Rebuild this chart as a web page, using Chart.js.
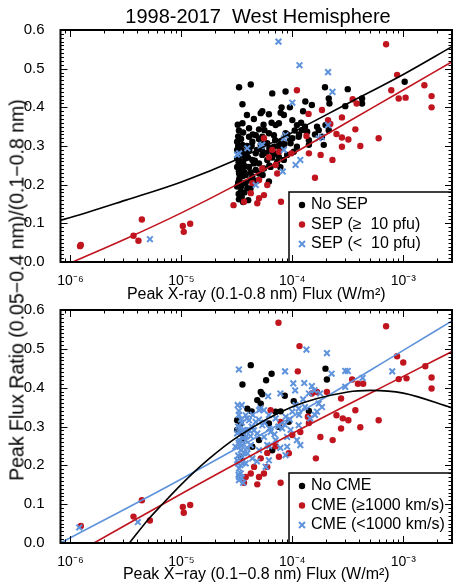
<!DOCTYPE html>
<html>
<head>
<meta charset="utf-8">
<script src="https://cdn.jsdelivr.net/npm/chart.js@4/dist/chart.umd.min.js"></script>
<style>
  body { margin: 0; background: #fff; }
  #wrap { position: relative; width: 458px; height: 586px; font-family: "Liberation Sans", Arial, Helvetica, sans-serif; }
  canvas { position: absolute; left: 0; top: 0; }
  #title { position: absolute; left: 258px; top: 15.5px; transform: translate(-50%, -50%); font-size: 20px; white-space: pre; color: #000; }
  #ytitle { position: absolute; left: 17px; top: 290px; transform: translate(-50%, -50%) rotate(-90deg); font-size: 19.5px; white-space: nowrap; color: #000; }
</style>
</head>
<body>
<div id="wrap">
  <canvas id="topChart" width="458" height="586"></canvas>
  <canvas id="botChart" width="458" height="586"></canvas>
  <div id="title">1998-2017  West Hemisphere</div>
  <div id="ytitle">Peak Flux Ratio (0.05−0.4 nm)/(0.1−0.8 nm)</div>
</div>
<script>
// x = peak GOES flux (W/m^2), y = flux ratio

// top panel: SEP classes
const topNoSep = [
  [3.31e-5,0.452],[4.22e-5,0.459],[3.55e-5,0.408],[6.59e-5,0.436],[8.69e-5,0.441],[5.36e-5,0.390],
  [5.19e-5,0.385],[6.15e-5,0.382],[7.84e-5,0.386],[8.39e-5,0.380],[1.31e-4,0.415],[1.50e-4,0.406],
  [1.97e-4,0.452],[2.13e-4,0.423],[2.16e-4,0.410],[3.16e-4,0.447],[3.0e-4,0.403],[4.25e-4,0.423],
  [4.25e-4,0.410],[1.03e-3,0.466],[3.55e-5,0.359],[4.07e-5,0.346],[5.01e-5,0.343],[5.6e-5,0.341],
  [7.07e-5,0.354],[7.57e-5,0.359],[1.0e-4,0.367],[1.10e-4,0.354],[1.22e-4,0.341],[1.36e-4,0.337],
  [1.67e-4,0.350],[1.73e-4,0.341],[1.99e-4,0.354],[2.13e-4,0.341],[1.85e-4,0.324],[1.41e-4,0.315],
  [1.14e-4,0.324],[1.0e-4,0.320],[8.69e-5,0.333],[6.82e-5,0.328],[6.15e-5,0.333],[5.36e-5,0.324],
  [4.68e-5,0.328],[4.07e-5,0.324],[3.31e-5,0.320],[3.18e-5,0.311],[3.55e-5,0.303],[4.36e-5,0.311],
  [5.19e-5,0.303],[5.94e-5,0.307],[6.82e-5,0.298],[7.84e-5,0.311],[9.64e-5,0.307],[1.10e-4,0.298],
  [1.41e-4,0.303],[1.92e-4,0.303],[3.18e-5,0.290],[3.55e-5,0.281],[3.93e-5,0.285],[4.68e-5,0.281],
  [5.36e-5,0.277],[6.59e-5,0.285],[7.57e-5,0.272],[8.98e-5,0.277],[1.03e-4,0.285],[3.18e-5,0.268],
  [3.43e-5,0.259],[3.80e-5,0.268],[4.36e-5,0.264],[5.01e-5,0.255],[5.94e-5,0.264],[7.31e-5,0.259],
  [8.39e-5,0.264],[3.18e-5,0.246],[3.55e-5,0.242],[4.07e-5,0.246],[4.68e-5,0.238],[5.55e-5,0.242],
  [6.37e-5,0.246],[3.31e-5,0.229],[3.80e-5,0.225],[4.36e-5,0.221],[5.01e-5,0.229],[3.31e-5,0.212],
  [3.67e-5,0.204],[4.22e-5,0.212],[3.18e-5,0.195],[3.43e-5,0.182],[3.43e-5,0.169],[3.93e-5,0.191],
  [6.15e-5,0.208],[3.6e-5,0.335],[3.9e-5,0.300],[4.0e-5,0.270],[4.5e-5,0.255],[4.8e-5,0.290],
  [3.35e-5,0.218],[3.75e-5,0.248],[4.2e-5,0.232],[4.6e-5,0.262],[5.3e-5,0.290],[5.8e-5,0.282],
  [6.6e-5,0.270],[7.0e-5,0.315],[8.0e-5,0.295],[9.0e-5,0.330],[1.05e-4,0.340],[1.2e-4,0.360],
  [3.45e-5,0.195],[3.7e-5,0.180],[3.25e-5,0.300],[3.4e-5,0.275],[3.3e-5,0.235],[3.6e-5,0.260],
  [3.22e-5,0.355],[3.3e-5,0.340],[3.25e-5,0.325],[3.45e-5,0.318],[3.35e-5,0.295],[3.5e-5,0.288],
  [3.28e-5,0.258],[3.5e-5,0.250],[3.25e-5,0.205],[3.4e-5,0.200],[3.55e-5,0.222],[3.28e-5,0.176],
  [3.5e-5,0.168],[3.8e-5,0.205],[3.7e-5,0.232],[3.85e-5,0.275],[4.1e-5,0.290],[4.3e-5,0.300],
  [4.4e-5,0.330],[5.0e-5,0.318],[5.6e-5,0.310],[6.2e-5,0.295],[6.9e-5,0.280],[7.5e-5,0.300],
  [8.5e-5,0.305],[9.5e-5,0.318],[1.15e-4,0.330],[1.3e-4,0.350],[1.6e-4,0.330],[1.25e-4,0.390],
  [9.5e-5,0.400],[8.0e-5,0.400],[6.5e-5,0.360],[5.5e-5,0.355],[4.5e-5,0.370],[3.9e-5,0.380],
  [4.8e-5,0.210],[5.4e-5,0.225],[6.2e-5,0.250],[7.8e-5,0.245],[4.2e-5,0.190],[3.6e-5,0.155],
  [4.0e-5,0.160],[3.3e-5,0.162]
];
const topSepHigh = [
  [1.22e-6,0.041],[1.24e-6,0.044],[4.4e-6,0.110],[3.7e-6,0.068],[4.1e-6,0.055],[1.03e-5,0.093],
  [1.05e-5,0.078],[1.2e-5,0.099],[7.0e-4,0.563],[8.8e-4,0.484],[7.8e-4,0.444],[1.55e-3,0.457],
  [9.1e-4,0.423],[1.05e-3,0.425],[1.8e-3,0.429],[1.8e-3,0.400],[1.1e-4,0.444],[3.5e-4,0.421],
  [3.8e-4,0.410],[1.85e-4,0.393],[1.4e-4,0.383],[2.8e-4,0.374],[2.2e-4,0.357],[3.7e-4,0.343],
  [2.5e-4,0.331],[2.8e-4,0.322],[4.1e-4,0.300],[6.0e-4,0.320],[2.8e-4,0.298],[1.34e-4,0.326],
  [1.8e-4,0.277],[2.3e-4,0.264],[1.6e-4,0.218],[7.9e-5,0.156],[2.1e-4,0.367],[3.2e-4,0.317],
  [1.41e-4,0.281],[9.8e-5,0.281],[7.57e-5,0.285],[6.15e-5,0.271],[7.07e-5,0.251],[5.36e-5,0.242],
  [5.94e-5,0.199],[5.01e-5,0.212],[4.36e-5,0.204],[7.31e-5,0.229],[5.55e-5,0.173],[5.01e-5,0.165],
  [4.22e-5,0.178],[3.67e-5,0.156],[2.95e-5,0.147],[4.83e-5,0.152],[5.55e-5,0.320],[6.59e-5,0.290]
];
const topSepLow = [
  [7.5e-5,0.570],[1.16e-4,0.509],[2.1e-4,0.491],[2.3e-4,0.440],[1.0e-4,0.412],[2.1e-4,0.354],
  [5.2e-6,0.059],[8.69e-5,0.328],[8.39e-5,0.320],[1.73e-4,0.320],[1.85e-4,0.323],[8.39e-5,0.290],
  [5.36e-5,0.303],[5.19e-5,0.300],[3.93e-5,0.294],[3.31e-5,0.281],[3.18e-5,0.277],[1.18e-4,0.264],
  [1.07e-4,0.251],[8.2e-5,0.234],[4.68e-5,0.199]
];

// bottom panel: CME classes
const botNoCme = [
  [4.22e-5,0.458],[3.55e-5,0.408],[5.19e-5,0.389],[5.36e-5,0.383],[6.5e-5,0.436],[5.8e-5,0.419],
  [4.83e-5,0.368],[5.19e-5,0.359],[8.55e-5,0.379],[1.99e-4,0.449],[2.05e-4,0.421],[1.03e-4,0.365],
  [1.41e-4,0.340],[3.93e-5,0.346],[4.3e-5,0.339],[3.18e-5,0.316],[3.43e-5,0.308],[7.07e-5,0.338],
  [7.84e-5,0.339],[6.15e-5,0.308],[7.57e-5,0.299],[9.3e-5,0.312],[3.18e-5,0.291],[3.55e-5,0.282],
  [4.36e-5,0.248],[6.59e-5,0.239],[3.55e-5,0.265],[5.01e-5,0.265],[3.43e-5,0.222]
];
const botCmeFast = [
  [1.24e-6,0.044],[4.4e-6,0.110],[3.7e-6,0.068],[5.2e-6,0.058],[1.03e-5,0.093],[1.05e-5,0.078],
  [1.2e-5,0.098],[1.16e-4,0.507],[7.5e-5,0.567],[7.0e-4,0.558],[8.8e-4,0.481],[1.0e-3,0.465],
  [1.58e-3,0.455],[1.8e-3,0.426],[1.8e-3,0.398],[9.1e-4,0.422],[1.07e-3,0.424],[3.46e-4,0.421],
  [3.9e-4,0.410],[4.35e-4,0.410],[1.12e-4,0.442],[1.67e-4,0.389],[1.5e-4,0.385],[2.05e-4,0.389],
  [2.75e-4,0.372],[2.5e-4,0.329],[2.85e-4,0.321],[3.2e-4,0.316],[2.75e-4,0.295],[4.1e-4,0.298],
  [6.0e-4,0.316],[3.7e-4,0.342],[1.79e-4,0.273],[2.31e-4,0.265],[1.63e-4,0.218],[1.41e-4,0.309],
  [1.38e-4,0.325],[1.0e-4,0.278],[1.18e-4,0.286],[7.84e-5,0.312],[7.07e-5,0.249],[7.57e-5,0.222],
  [5.94e-5,0.232],[5.19e-5,0.218],[4.52e-5,0.196],[5.94e-5,0.196],[7.84e-5,0.155],[5.55e-5,0.179],
  [5.01e-5,0.170],[4.22e-5,0.179],[3.8e-5,0.170],[3.67e-5,0.155],[4.83e-5,0.151],[9.3e-5,0.231],
  [6.37e-5,0.342]
];
const botCmeSlow = [
  [1.2e-6,0.040],[4.05e-6,0.054],[3.3e-5,0.447],[1.34e-4,0.498],[2.05e-4,0.489],[3.0e-4,0.443],
  [7.95e-4,0.442],[4.3e-4,0.425],[8.6e-5,0.442],[6.05e-5,0.378],[7.8e-5,0.385],[1.02e-4,0.411],
  [1.28e-4,0.412],[1.06e-4,0.393],[1.58e-4,0.393],[1.78e-4,0.385],[3.0e-4,0.402],[2.26e-4,0.436],
  [3.5e-5,0.355],[5.15e-5,0.346],[3.9e-5,0.321],[1.5e-4,0.404],[5.01e-5,0.342],[5.55e-5,0.342],
  [1.07e-4,0.355],[1.14e-4,0.346],[1.41e-4,0.385],[1.73e-4,0.359],[1.85e-4,0.350],[1.67e-4,0.338],
  [1.45e-4,0.321],[1.0e-4,0.338],[8.7e-5,0.325],[7.07e-5,0.321],[6.15e-5,0.329],[3.8e-5,0.329],
  [4.07e-5,0.316],[4.68e-5,0.312],[5.36e-5,0.303],[6.37e-5,0.286],[8.1e-5,0.295],[9.64e-5,0.291],
  [1.14e-4,0.303],[8.98e-5,0.273],[1.1e-4,0.265],[1.18e-4,0.252],[8.98e-5,0.248],[8.69e-5,0.226],
  [7.07e-5,0.265],[5.55e-5,0.273],[4.83e-5,0.282],[3.93e-5,0.291],[3.18e-5,0.282],[3.31e-5,0.265],
  [3.8e-5,0.265],[4.22e-5,0.252],[3.07e-5,0.248],[3.43e-5,0.239],[3.93e-5,0.231],[5.01e-5,0.239],
  [5.94e-5,0.252],[3.18e-5,0.213],[3.55e-5,0.205],[3.31e-5,0.192],[3.43e-5,0.179],[3.31e-5,0.170],
  [5.75e-5,0.196],[6.15e-5,0.213],[4.36e-5,0.218],[3.16e-4,0.443],[3.25e-5,0.300],[3.5e-5,0.310],
  [3.7e-5,0.290],[3.3e-5,0.330],[3.6e-5,0.270],[4.5e-5,0.290],[4.2e-5,0.275],[3.9e-5,0.245],
  [3.4e-5,0.255],[3.25e-5,0.225],[3.22e-5,0.355],[3.3e-5,0.340],[3.45e-5,0.318],[3.35e-5,0.295],
  [3.5e-5,0.288],[3.28e-5,0.258],[3.5e-5,0.250],[3.25e-5,0.205],[3.4e-5,0.200],[3.55e-5,0.222],
  [3.28e-5,0.176],[3.5e-5,0.168],[3.8e-5,0.205],[3.7e-5,0.232],[3.85e-5,0.275],[4.1e-5,0.290],
  [4.3e-5,0.300],[4.4e-5,0.330],[5.0e-5,0.318],[5.6e-5,0.310],[6.2e-5,0.295],[6.9e-5,0.280],
  [7.5e-5,0.300],[8.5e-5,0.305],[9.5e-5,0.318],[1.15e-4,0.330],[1.3e-4,0.350],[1.6e-4,0.330],
  [1.25e-4,0.370],[6.2e-5,0.250],[4.8e-5,0.210],[7.8e-5,0.245],[3.6e-5,0.155],[3.3e-5,0.162]
];

// fitted curves, sampled off the figure
const topFitNoSep = [[8.13e-7,0.108],[1e-6,0.115],[3.16e-6,0.160],[1e-5,0.207],[3.16e-5,0.265],[1e-4,0.335],[3.16e-4,0.410],[1e-3,0.485],[2.75e-3,0.557]];
const topFitSep = [[1.05e-6,0],[3.16e-6,0.060],[1e-5,0.127],[3.16e-5,0.200],[1e-4,0.279],[3.16e-4,0.362],[1e-3,0.445],[2.75e-3,0.518]];
const botFitNoCme = [[3.4e-6,0],[5e-6,0.060],[6.3e-6,0.091],[1e-5,0.151],[1.78e-5,0.217],[3.16e-5,0.272],[1e-4,0.351],[3.16e-4,0.389],[5.1e-4,0.393],[1e-3,0.386],[2.75e-3,0.348]];
const botFitFast = [[1.63e-6,0],[1e-5,0.127],[1e-4,0.282],[1e-3,0.429],[2.75e-3,0.493]];
const botFitSlow = [[8.13e-7,0],[1e-5,0.165],[1e-4,0.325],[1e-3,0.496],[2.75e-3,0.572]];

const topLabels = ['No SEP', 'SEP (≥  10 pfu)', 'SEP (<  10 pfu)'];
const botLabels = ['No CME', 'CME (≥1000 km/s)', 'CME (<1000 km/s)'];
const yTickValues = [0, 0.1, 0.2, 0.3, 0.4, 0.5, 0.6];

const BLACK = '#000000';
const RED = '#c0141e';
const BLUE = '#5f93dc';
const FONT = '"Liberation Sans", Arial, Helvetica, sans-serif';
Chart.defaults.font.family = FONT;
Chart.defaults.color = '#000';

const xy = arr => arr.map(p => ({x: p[0], y: p[1]}));
const SUP = {'-':'⁻','0':'⁰','1':'¹','2':'²','3':'³','4':'⁴','5':'⁵','6':'⁶','7':'⁷','8':'⁸','9':'⁹'};
function powLabel(v) {
  const e = Math.log10(v);
  if (Math.abs(e - Math.round(e)) > 1e-6) return '';
  return '10' + String(Math.round(e)).split('').map(c => SUP[c]).join('');
}

function dotSet(label, data, color, order) {
  return {label, data: xy(data), pointStyle: 'circle', pointRadius: 3.2,
    backgroundColor: color, borderColor: color, borderWidth: 0, order, showLine: false};
}
function crossSet(label, data, order) {
  return {label, data: xy(data), pointStyle: 'crossRot', pointRadius: 4,
    backgroundColor: BLUE, borderColor: BLUE, borderWidth: 2, order, showLine: false};
}
function fitSet(data, color) {
  return {label: '', data: xy(data), showLine: true, pointRadius: 0, borderColor: color,
    borderWidth: 1.6, cubicInterpolationMode: 'monotone', order: 0, fit: true};
}

// legend box in lower right of plot, then inward ticks and frame
const panelDeco = {
  id: 'panelDeco',
  afterDatasetsDraw(chart) {
    const {ctx, chartArea: a, scales: {x, y}} = chart;
    ctx.save();
    // legend
    const bx = a.right - 163, by = a.bottom - 70;
    ctx.fillStyle = '#fff';
    ctx.fillRect(bx, by, a.right - bx, a.bottom - by);
    ctx.strokeStyle = '#000';
    ctx.lineWidth = 1.5;
    ctx.strokeRect(bx, by, a.right - bx, a.bottom - by);
    const rows = chart.data.datasets.filter(d => !d.fit).sort((p, q) => q.order - p.order);
    ctx.font = '16px ' + FONT;
    ctx.textBaseline = 'middle';
    rows.forEach((d, i) => {
      const ry = by + 13 + i * 19.5;
      const mx = bx + 13;
      if (d.pointStyle === 'circle') {
        ctx.fillStyle = d.backgroundColor;
        ctx.beginPath(); ctx.arc(mx, ry, 3.2, 0, Math.PI * 2); ctx.fill();
      } else {
        ctx.strokeStyle = d.borderColor; ctx.lineWidth = 2;
        ctx.beginPath();
        ctx.moveTo(mx - 3, ry - 3); ctx.lineTo(mx + 3, ry + 3);
        ctx.moveTo(mx + 3, ry - 3); ctx.lineTo(mx - 3, ry + 3);
        ctx.stroke();
      }
      ctx.fillStyle = '#000';
      ctx.fillText(d.label, bx + 22, ry);
    });
    // ticks
    ctx.strokeStyle = '#000';
    ctx.lineWidth = 1;
    ctx.beginPath();
    for (let i = 0; i <= 60; i++) {
      const p = Math.round(y.getPixelForValue(i / 100)) + 0.5;
      const len = i % 10 === 0 ? 7 : 3.5;
      ctx.moveTo(a.left, p); ctx.lineTo(a.left + len, p);
      ctx.moveTo(a.right, p); ctx.lineTo(a.right - len, p);
    }
    for (let e = -7; e <= -2; e++) {
      for (let m = 1; m <= 9; m++) {
        const v = m * Math.pow(10, e);
        if (v < x.min || v > x.max) continue;
        const p = Math.round(x.getPixelForValue(v)) + 0.5;
        const len = m === 1 ? 7 : 3.5;
        ctx.moveTo(p, a.bottom); ctx.lineTo(p, a.bottom - len);
        ctx.moveTo(p, a.top); ctx.lineTo(p, a.top + len);
      }
    }
    ctx.stroke();
    ctx.lineWidth = 2;
    ctx.strokeRect(a.left, a.top, a.right - a.left, a.bottom - a.top);
    ctx.restore();
  }
};

function makeOptions(padTop, padBottom, xHeight, xTitle) {
  return {
    responsive: false,
    animation: false,
    devicePixelRatio: 1,
    layout: {padding: {top: padTop, bottom: padBottom, left: 0, right: 4}},
    plugins: {legend: {display: false}, tooltip: {enabled: false}},
    scales: {
      x: {
        type: 'logarithmic', min: 8.13e-7, max: 2.75e-3,
        grid: {display: false}, border: {display: false},
        afterFit: s => { s.height = xHeight; },
        ticks: {autoSkip: false, maxRotation: 0, minRotation: 0, padding: 3,
          font: {size: 14}, color: '#000', callback: v => powLabel(v)},
        title: {display: true, text: xTitle, font: {size: 16}, color: '#000',
          padding: {top: 0, bottom: 1.4}}
      },
      y: {
        type: 'linear', min: 0, max: 0.6,
        grid: {display: false}, border: {display: false},
        afterFit: s => { s.width = 60.5; },
        afterBuildTicks: s => { s.ticks = yTickValues.map(v => ({value: v})); },
        ticks: {padding: 8, font: {size: 15}, color: '#000', callback: v => v.toFixed(1)}
      }
    }
  };
}

new Chart(document.getElementById('topChart'), {
  type: 'scatter',
  data: {datasets: [
    dotSet(topLabels[0], topNoSep, BLACK, 3),
    dotSet(topLabels[1], topSepHigh, RED, 2),
    crossSet(topLabels[2], topSepLow, 1),
    fitSet(topFitNoSep, BLACK),
    fitSet(topFitSep, RED)
  ]},
  options: makeOptions(30, 280, 44, 'Peak X-ray (0.1-0.8 nm) Flux (W/m²)'),
  plugins: [panelDeco]
});

new Chart(document.getElementById('botChart'), {
  type: 'scatter',
  data: {datasets: [
    dotSet(botLabels[0], botNoCme, BLACK, 3),
    dotSet(botLabels[1], botCmeFast, RED, 2),
    crossSet(botLabels[2], botCmeSlow, 1),
    fitSet(botFitNoCme, BLACK),
    fitSet(botFitFast, RED),
    fitSet(botFitSlow, BLUE)
  ]},
  options: makeOptions(310, 0, 43, 'Peak X−ray (0.1−0.8 nm) Flux (W/m²)'),
  plugins: [panelDeco]
});
</script>
</body>
</html>
